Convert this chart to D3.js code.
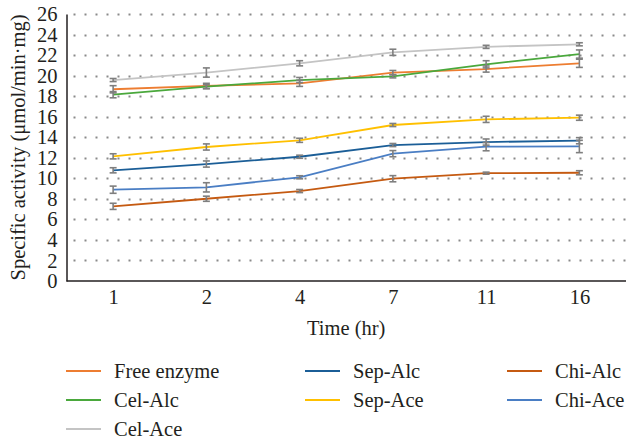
<!DOCTYPE html>
<html>
<head>
<meta charset="utf-8">
<script src="https://cdn.jsdelivr.net/npm/d3@7"></script>
<style>
  body { margin: 0; background: #fff; }
  svg text { font-family: "Liberation Serif", serif; font-weight: normal; fill: #231f20; }
</style>
</head>
<body>
<div id="chart"></div>
<script>
const times = ["1", "2", "4", "7", "11", "16"];
const yTicks = d3.range(0, 27, 2);

const seriesNames = ["Free enzyme", "Cel-Alc", "Cel-Ace", "Sep-Alc", "Sep-Ace", "Chi-Alc", "Chi-Ace"];
const seriesColors = ["#ed7d31", "#4aa83c", "#c4c4c4", "#1b5e97", "#ffc000", "#c55a11", "#4a7ec4"];

const freeEnzyme = [18.67, 19.0, 19.25, 20.3, 20.64, 21.2];
const celAlc = [18.14, 18.92, 19.57, 19.93, 21.1, 22.1];
const celAce = [19.57, 20.3, 21.2, 22.27, 22.8, 23.05];
const sepAlc = [10.78, 11.39, 12.1, 13.24, 13.53, 13.66];
const sepAce = [12.14, 13.05, 13.7, 15.19, 15.74, 15.9];
const chiAlc = [7.27, 8.01, 8.76, 9.96, 10.5, 10.54];
const chiAce = [8.89, 9.12, 10.1, 12.4, 13.08, 13.1];

const freeEnzymeErr = [0.35, 0.25, 0.3, 0.2, 0.3, 0.4];
const celAlcErr = [0.3, 0.2, 0.25, 0.15, 0.35, 0.4];
const celAceErr = [0.15, 0.45, 0.25, 0.3, 0.15, 0.15];
const sepAlcErr = [0.25, 0.3, 0.15, 0.15, 0.3, 0.3];
const sepAceErr = [0.25, 0.3, 0.2, 0.15, 0.3, 0.25];
const chiAlcErr = [0.3, 0.25, 0.15, 0.3, 0.1, 0.2];
const chiAceErr = [0.35, 0.45, 0.15, 0.3, 0.4, 0.6];

const values = [freeEnzyme, celAlc, celAce, sepAlc, sepAce, chiAlc, chiAce];
const errors = [freeEnzymeErr, celAlcErr, celAceErr, sepAlcErr, sepAceErr, chiAlcErr, chiAceErr];

const width = 629, height = 443;
const plotLeft = 66.5, plotRight = 626, plotTop = 14, plotBottom = 281;
const fontSize = 20.5;

const svg = d3.select("#chart").append("svg").attr("width", width).attr("height", height);

const x = d3.scalePoint().domain(times).range([plotLeft, plotRight]).padding(0.5);
const y = d3.scaleLinear().domain([0, 26]).range([plotBottom, plotTop]);

// dotted grid
svg.append("g").selectAll("line").data(yTicks.filter(d => d > 0)).join("line")
    .attr("x1", plotLeft + 7).attr("x2", plotRight)
    .attr("y1", d => Math.round(y(d)) + 0.5).attr("y2", d => Math.round(y(d)) + 0.5)
    .attr("stroke", "#8a8a8a").attr("stroke-width", 2)
    .attr("stroke-dasharray", "2,9");

// y axis
const yAxis = svg.append("g").attr("transform", `translate(${plotLeft},0)`)
    .call(d3.axisLeft(y).tickValues(yTicks).tickSize(0).tickPadding(9));
yAxis.select(".domain").attr("stroke", "#231f20").attr("stroke-width", 1.5);
yAxis.selectAll("text").attr("font-size", fontSize);

// x axis
const xAxis = svg.append("g").attr("transform", `translate(0,${plotBottom})`)
    .call(d3.axisBottom(x).tickSize(0).tickPadding(8));
xAxis.select(".domain").attr("stroke", "#231f20").attr("stroke-width", 1.5)
    .attr("d", `M${plotLeft},0H${plotRight}`);
xAxis.selectAll("text").attr("font-size", fontSize);

svg.append("text").attr("x", (plotLeft + plotRight) / 2).attr("y", 335)
    .attr("text-anchor", "middle").attr("font-size", fontSize).text("Time (hr)");

svg.append("text").attr("transform", `translate(25,${(plotTop + plotBottom) / 2}) rotate(-90)`)
    .attr("text-anchor", "middle").attr("font-size", fontSize)
    .text("Specific activity (\u03bcmol/min\u00b7mg)");

// lines
const line = d3.line().x((d, i) => x(times[i])).y(d => y(d));
const order = [2, 0, 1, 4, 3, 6, 5];
order.forEach(s => {
    svg.append("path").datum(values[s])
        .attr("fill", "none").attr("stroke", seriesColors[s]).attr("stroke-width", 1.8)
        .attr("d", line);
});

// error bars
order.forEach(s => {
    const g = svg.append("g").attr("stroke", "#7f7f7f").attr("stroke-width", 1.6);
    values[s].forEach((v, i) => {
        const cx = x(times[i]);
        const e = errors[s][i];
        g.append("line").attr("x1", cx).attr("x2", cx).attr("y1", y(v - e)).attr("y2", y(v + e));
        g.append("line").attr("x1", cx - 3.5).attr("x2", cx + 3.5).attr("y1", y(v - e)).attr("y2", y(v - e));
        g.append("line").attr("x1", cx - 3.5).attr("x2", cx + 3.5).attr("y1", y(v + e)).attr("y2", y(v + e));
    });
});

// legend: three columns, filled column by column
const legendCols = [66, 305, 507];
const legendRows = [371, 400, 429];
const legendPos = [[0, 0], [0, 1], [0, 2], [1, 0], [1, 1], [2, 0], [2, 1]];
seriesNames.forEach((name, s) => {
    const lx = legendCols[legendPos[s][0]], ly = legendRows[legendPos[s][1]];
    svg.append("line").attr("x1", lx).attr("x2", lx + 35).attr("y1", ly).attr("y2", ly)
        .attr("stroke", seriesColors[s]).attr("stroke-width", 1.8);
    svg.append("text").attr("x", lx + 48).attr("y", ly + 6.5).attr("font-size", fontSize).text(name);
});
</script>
</body>
</html>
